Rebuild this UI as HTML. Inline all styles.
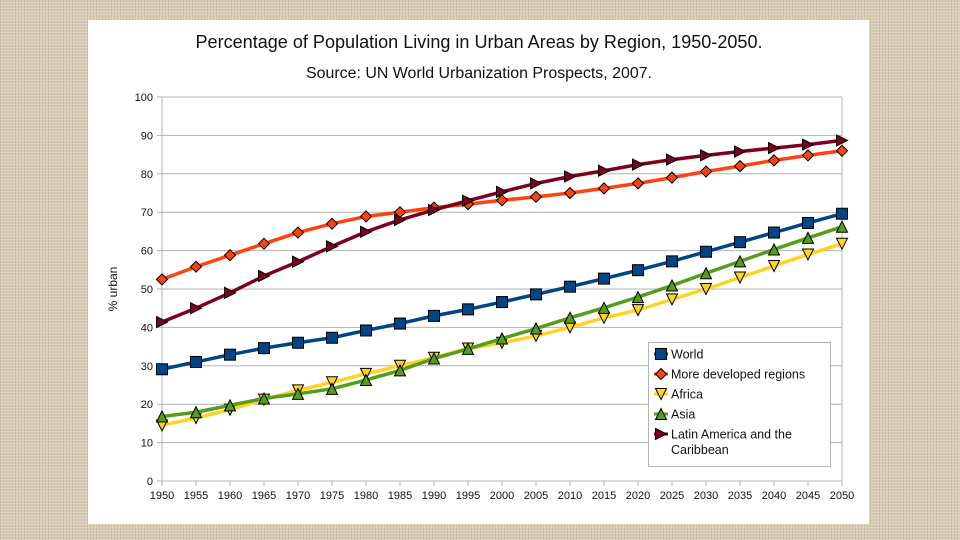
<!DOCTYPE html>
<html><head><meta charset="utf-8"><style>
html,body{margin:0;padding:0;width:960px;height:540px;overflow:hidden}
body{background:#d9ccb4;background-image:repeating-linear-gradient(0deg,rgba(255,255,255,.18) 0 1px,transparent 1px 3px),repeating-linear-gradient(90deg,rgba(120,100,70,.15) 0 1px,transparent 1px 3px);font-family:"Liberation Sans",sans-serif}
#panel{position:absolute;left:88px;top:20px;width:781px;height:504px;background:#fff}
</style></head><body>
<div id="panel"></div>
<svg id="chart" width="960" height="540" style="position:absolute;left:0;top:0"></svg>
<script>
const years=[1950,1955,1960,1965,1970,1975,1980,1985,1990,1995,2000,2005,2010,2015,2020,2025,2030,2035,2040,2045,2050];
const world=[29.1,31,32.9,34.6,36,37.3,39.2,41,43,44.7,46.6,48.6,50.6,52.7,54.9,57.2,59.7,62.2,64.7,67.2,69.6];
const moreDev=[52.5,55.8,58.8,61.8,64.7,67,68.9,70,71.2,72.1,73.1,74,75,76.2,77.5,79,80.6,82,83.5,84.8,86];
const africa=[14.5,16.4,18.6,21.2,23.6,25.7,27.9,30,32.1,34.5,36,37.8,40,42.5,44.5,47.3,50,53,56,59,61.8];
const asia=[16.8,17.9,19.7,21.5,22.7,24,26.3,28.8,31.9,34.4,37.1,39.7,42.5,45.1,47.9,50.9,54.1,57.2,60.3,63.3,66.2];
const latin=[41.4,45,49,53.4,57.1,61.1,64.9,68,70.6,73,75.3,77.5,79.3,80.8,82.4,83.7,84.8,85.8,86.7,87.6,88.7];
const yTicks=[0,10,20,30,40,50,60,70,80,90,100];
const seriesNames=["World","More developed regions","Africa","Asia","Latin America and the"];
const NS="http://www.w3.org/2000/svg",svg=document.getElementById('chart');
const X0=162,X1=842,Y0=481,Y1=97;
const xs=v=>X0+(v-1950)/100*(X1-X0), ys=v=>Y0-v/100*(Y0-Y1);
function mk(t,a,p){const e=document.createElementNS(NS,t);for(const k in a)e.setAttribute(k,a[k]);(p||svg).appendChild(e);return e;}
let e;
e=mk('text',{x:479,y:48,'text-anchor':'middle','font-size':18,fill:'#111',textLength:567,lengthAdjust:'spacingAndGlyphs'});e.textContent="Percentage of Population Living in Urban Areas by Region, 1950-2050.";

e=mk('text',{x:479,y:78,'text-anchor':'middle','font-size':15.5,fill:'#111',textLength:346,lengthAdjust:'spacingAndGlyphs'});e.textContent="Source: UN World Urbanization Prospects, 2007.";

e=mk('text',{x:117,y:289,'text-anchor':'middle','font-size':12,fill:'#111',transform:'rotate(-90 117 289)'});e.textContent="% urban";

yTicks.forEach(t=>{const y=ys(t);
 e=mk('line',{x1:X0-5,x2:X1,y1:y,y2:y,stroke:'#b3b3b3','stroke-width':1});
 e=mk('text',{x:X0-9,y:y+4,'text-anchor':'end','font-size':11,fill:'#111'});e.textContent=t;});
e=mk('line',{x1:X0,x2:X0,y1:Y1,y2:Y0,stroke:'#b3b3b3'});
e=mk('line',{x1:X1,x2:X1,y1:Y1,y2:Y0,stroke:'#b3b3b3'});
years.forEach(yr=>{const x=xs(yr);
 e=mk('line',{x1:x,x2:x,y1:Y0,y2:Y0+5,stroke:'#b3b3b3'});
 e=mk('text',{x:x,y:Y0+18,'text-anchor':'middle','font-size':11,fill:'#111'});e.textContent=yr;});
function marker(kind,x,y,col,g){const s=5.5;let m;
 if(kind=='sq')m=mk('rect',{x:x-s,y:y-s,width:2*s,height:2*s},g);
 else if(kind=='dia')m=mk('polygon',{points:`${x},${y-s} ${x+s},${y} ${x},${y+s} ${x-s},${y}`},g);
 else if(kind=='dn')m=mk('polygon',{points:`${x-s},${y-s} ${x+s},${y-s} ${x},${y+s}`},g);
 else if(kind=='up')m=mk('polygon',{points:`${x-s},${y+s} ${x+s},${y+s} ${x},${y-s}`},g);
 else m=mk('polygon',{points:`${x-s},${y-s} ${x+s},${y} ${x-s},${y+s}`},g);
 m.setAttribute('fill',col);m.setAttribute('stroke','#000');m.setAttribute('stroke-width',1);return m;}
const series=[[world,'#004586','sq'],[moreDev,'#ff420e','dia'],[africa,'#ffd320','dn'],[asia,'#579d1c','up'],[latin,'#7e0021','rt']];
const sNames=['series-world','series-more-developed','series-africa','series-asia','series-latin-america'];
series.forEach((s,i)=>{const g=mk('g',{});
 e=mk('polyline',{points:s[0].map((v,j)=>xs(years[j])+','+ys(v)).join(' '),fill:'none',stroke:s[1],'stroke-width':3.5},g);
 
 s[0].forEach((v,j)=>{e=marker(s[2],xs(years[j]),ys(v),s[1],g);});});
const lg=mk('g',{});
mk('rect',{x:648.5,y:342.5,width:182,height:124,fill:'#fff',stroke:'#b3b3b3'},lg);
series.forEach((s,i)=>{const y=354+i*20;
 mk('line',{x1:654,x2:668,y1:y,y2:y,stroke:s[1],'stroke-width':3},lg);
 marker(s[2],661,y,s[1],lg);
 e=mk('text',{x:671,y:y+4.5,'font-size':12.5,fill:'#111'},lg);e.textContent=seriesNames[i];
 });
e=mk('text',{x:671,y:454,'font-size':12.5,fill:'#111'},lg);e.textContent="Caribbean";

</script></body></html>
